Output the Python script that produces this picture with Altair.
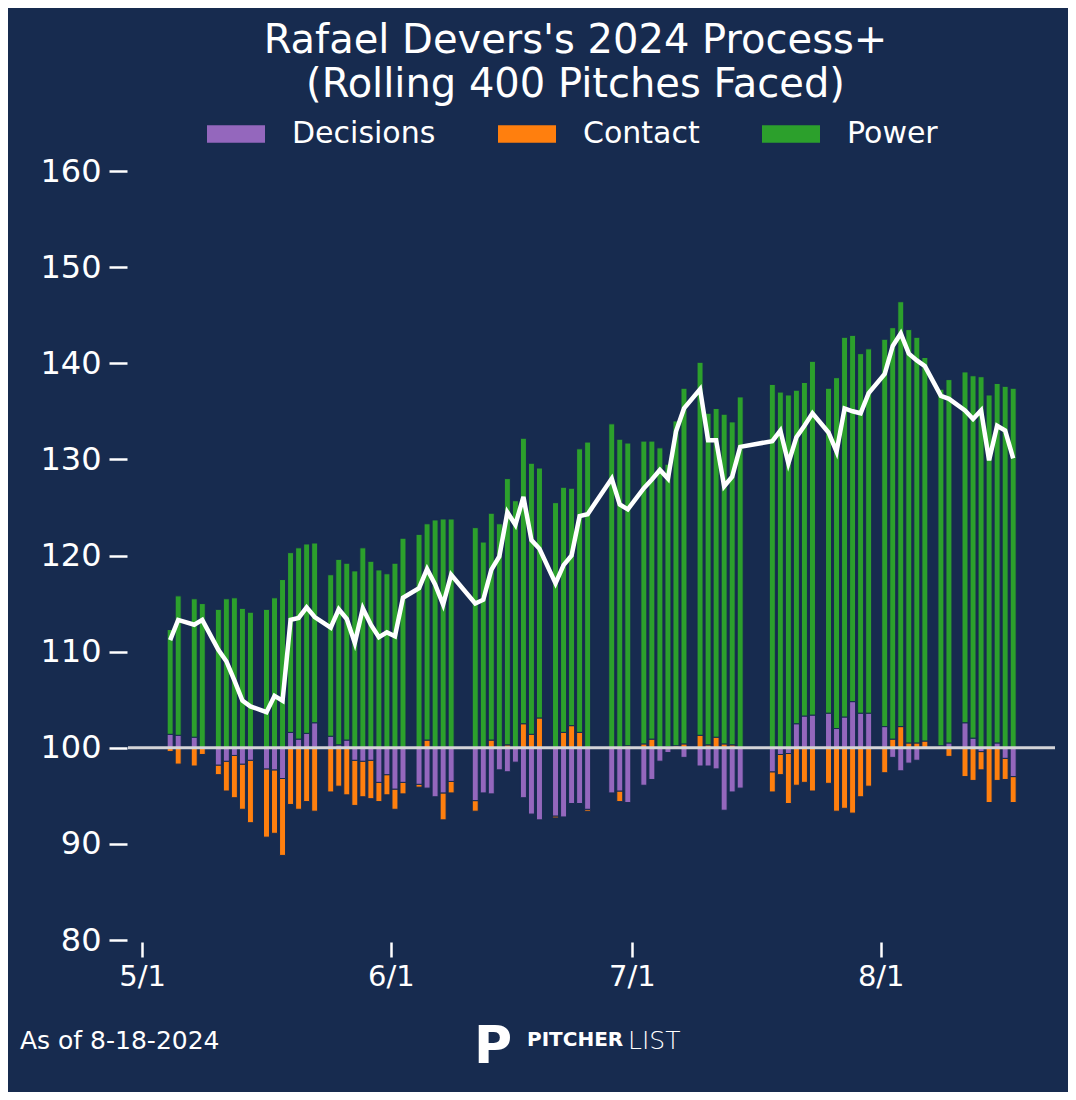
import altair as alt
import pandas as pd

BG = "#172b4f"

# days after 5/1 for each rolling window end
day_offsets = [3, 4, 6, 7, 9, 10, 11, 12, 13, 15, 16, 17, 18, 19, 20, 21, 23, 24, 25, 26,
               27, 28, 29, 30, 31, 32, 34, 35, 36, 37, 38, 41, 42, 43, 44, 45, 46, 47, 48, 49,
               51, 52, 53, 54, 55, 58, 59, 60, 62, 63, 64, 65, 66, 67, 69, 70, 71, 72, 73, 74,
               78, 79, 80, 81, 82, 83, 85, 86, 87, 88, 89, 90, 92, 93, 94, 95, 96, 97, 99, 100,
               102, 103, 104, 105, 106, 107, 108]
decisions = [1.4, 1.3, 1.1, 0.0, -1.8, -1.4, -0.8, -1.7, -1.3, -2.2, -2.3, -3.2, 1.6, 0.9, 1.5, 2.6,
             1.2, 0.3, 0.8, -1.3, -1.4, -1.3, -3.6, -2.8, -4.3, -3.6, -3.8, -4.2, -5.1, -4.7, -3.5,
             -5.5, -4.7, -4.8, -2.3, -2.5, -1.5, -5.2, -6.9, -7.5, -7.1, -7.2, -5.8, -5.8, -6.4,
             -4.7, -4.5, -5.7, -3.9, -3.3, -1.4, -0.5, 0.0, -1.0, -1.9, -1.9, -2.2, -6.5, -4.6,
             -4.2, -2.5, -0.7, -0.6, 2.5, 3.3, 3.4, 3.6, 2.0, 3.2, 4.8, 3.6, 3.6, 2.2, -1.0, -2.4,
             -1.6, -1.3, 0.0, 0.2, 0.5, 2.6, 1.0, -0.4, 0.0, 0.5, -1.1, -3.0]
contact = [-0.4, -1.7, -1.9, -0.7, -1.0, -3.1, -4.4, -4.7, -6.5, -7.1, -6.6, -8.0, -5.9, -6.4, -5.6,
           -6.6, -4.6, -4.0, -4.9, -4.7, -3.7, -4.0, -2.0, -2.1, -2.1, -1.2, -0.3, 0.8, 0.0, -2.8,
           -1.2, -1.1, 0.0, 0.8, 0.0, 0.3, 0.0, 2.5, 1.4, 3.1, -0.2, 1.6, 2.3, 1.6, -0.2, 0.0,
           -1.1, 0.2, 0.4, 0.9, 0.0, 0.1, 0.2, 0.4, 1.3, 0.3, 1.1, 0.4, 0.3, 0.0, -2.1, -2.1,
           -5.2, -3.9, -3.6, -4.5, -3.7, -6.6, -6.3, -6.8, -5.1, -4.0, -2.6, 0.9, 2.2, 0.5, 0.5,
           0.7, 0.0, -0.9, -3.0, -3.4, -1.9, -5.7, -3.4, -2.2, -2.7]
power = [10.9, 14.5, 14.4, 15.0, 14.4, 15.5, 15.6, 14.5, 14.1, 14.4, 15.6, 17.5, 18.7, 19.9, 19.7,
         18.7, 16.8, 19.3, 18.4, 18.4, 20.8, 19.4, 18.5, 18.1, 19.2, 21.8, 22.2, 22.5, 23.7, 23.8,
         23.8, 22.9, 21.4, 23.6, 23.3, 27.7, 25.7, 29.7, 28.2, 26.0, 25.5, 25.5, 24.7, 29.5, 31.8,
         33.7, 32.1, 31.5, 31.5, 31.0, 31.2, 29.4, 33.8, 37.0, 38.8, 34.5, 34.2, 34.3, 33.6, 36.5,
         37.8, 37.0, 36.7, 34.7, 34.7, 36.8, 33.8, 36.5, 39.5, 38.1, 37.4, 37.9, 40.3, 42.8, 44.2,
         43.0, 42.2, 39.9, 37.1, 37.8, 36.5, 37.7, 38.6, 36.7, 37.4, 37.6, 37.4]
process_plus = [111.2, 113.3, 112.8, 113.3, 110.2, 109.0, 107.0, 104.9, 104.3, 103.7, 105.4, 104.9,
                113.3, 113.5, 114.6, 113.6, 112.5, 114.4, 113.4, 110.9, 114.5, 112.8, 111.5, 112.0,
                111.6, 115.6, 116.6, 118.6, 117.0, 114.9, 118.0, 115.0, 115.4, 118.5, 119.9, 124.5,
                123.2, 126.1, 121.6, 120.7, 117.1, 119.0, 120.0, 124.1, 124.3, 128.0, 125.3, 124.8,
                127.0, 127.9, 128.9, 128.0, 132.9, 135.3, 137.3, 132.0, 132.0, 127.2, 128.2, 131.3,
                131.9, 133.0, 129.6, 132.3, 133.5, 134.8, 132.8, 130.8, 135.3, 135.0, 134.8, 136.9,
                138.9, 141.8, 143.1, 141.0, 140.3, 139.7, 136.6, 136.3, 135.1, 134.2, 135.1, 129.9,
                133.5, 133.0, 130.1]
components = ["Decisions", "Contact", "Power"]
colors = ["#9467bd", "#ff7f0e", "#2ca02c"]

dates = pd.Timestamp("2024-05-01T12:00") + pd.to_timedelta(day_offsets, unit="D")

rows = []
for i, date in enumerate(dates):
    up, down = 100.0, 100.0
    for name, value in zip(components, (decisions[i], contact[i], power[i])):
        if value >= 0:
            rows.append({"date": date, "component": name, "y": up, "y2": up + value})
            up += value
        else:
            rows.append({"date": date, "component": name, "y": down, "y2": down + value})
            down += value
bars_df = pd.DataFrame(rows)
bars_df["date"] = bars_df["date"].dt.strftime("%Y-%m-%dT%H:%M")
line_df = pd.DataFrame({"date": dates.strftime("%Y-%m-%dT%H:%M"), "value": process_plus})

x_scale = alt.Scale(domain=["2024-04-29T06:00", "2024-08-22T17:00"], nice=False, padding=0)
x_axis = alt.Axis(
    values=["2024-05-01T00:00", "2024-06-01T00:00", "2024-07-01T00:00", "2024-08-01T00:00"],
    format="%-m/%-d", title=None, domain=False, grid=False, tickColor="white",
    tickWidth=2.5, tickSize=15, offset=2, labelColor="white", labelFontSize=29,
    labelPadding=5,
)
y_scale = alt.Scale(domain=[80, 160], nice=False, padding=0)

bars = alt.Chart(bars_df).mark_bar(size=6, stroke=BG, strokeWidth=1).encode(
    x=alt.X("date:T", scale=x_scale, axis=x_axis),
    y=alt.Y("y:Q", scale=y_scale, axis=alt.Axis(
        values=list(range(80, 161, 10)), title=None, domain=False, grid=False,
        tickColor="white", tickWidth=2.5, tickSize=18, offset=1, labelColor="white",
        labelFontSize=32, labelPadding=8)),
    y2="y2:Q",
    color=alt.Color("component:N", scale=alt.Scale(domain=components, range=colors),
                    legend=alt.Legend(
                        title=None, orient="none", direction="horizontal", legendX=79,
                        legendY=-66, symbolType="M-1,-0.3H1V0.3H-1Z", symbolSize=3364,
                        symbolStrokeWidth=0, symbolOpacity=1, labelColor="white",
                        labelFontSize=30, labelOffset=27, columnPadding=62,
                        gridAlign="none")),
    order=alt.Order("y:Q"),
)

base_rule = alt.Chart(pd.DataFrame({"v": [100]})).mark_rule(
    color="#d4d4d8", strokeWidth=3).encode(y="v:Q")

line = alt.Chart(line_df).mark_line(color="white", strokeWidth=4.5).encode(
    x="date:T", y="value:Q")

notes = alt.Chart(pd.DataFrame({"t": ["As of 8-18-2024"]})).mark_text(
    align="left", fontSize=25, color="white").encode(
    text="t:N", x=alt.value(-108), y=alt.value(870))
logo_p = alt.Chart(pd.DataFrame({"t": ["P"]})).mark_text(
    align="left", fontSize=52, fontWeight="bold", color="white").encode(
    text="t:N", x=alt.value(346), y=alt.value(876))
logo_a = alt.Chart(pd.DataFrame({"t": ["PITCHER"]})).mark_text(
    align="left", fontSize=20, fontWeight="bold", color="white").encode(
    text="t:N", x=alt.value(399), y=alt.value(869))
logo_b = alt.Chart(pd.DataFrame({"t": ["LIST"]})).mark_text(
    align="left", fontSize=25, fontWeight=300, color="white").encode(
    text="t:N", x=alt.value(500), y=alt.value(870))

chart = alt.layer(bars, base_rule, line, notes, logo_p, logo_a, logo_b).properties(
    width=927, height=769, background=BG,
    autosize=alt.AutoSizeParams(type="none"),
    padding={"left": 120, "top": 163, "right": 13, "bottom": 152},
    title=alt.Title(["Rafael Devers's 2024 Process+", "(Rolling 400 Pitches Faced)"],
                    fontSize=40, fontWeight="normal", color="white", anchor="middle",
                    dx=-16, offset=0, lineHeight=44),
).configure(font="DejaVu Sans").configure_view(strokeWidth=0)

chart.save("out.html", embed_options={"renderer": "svg", "actions": False})
